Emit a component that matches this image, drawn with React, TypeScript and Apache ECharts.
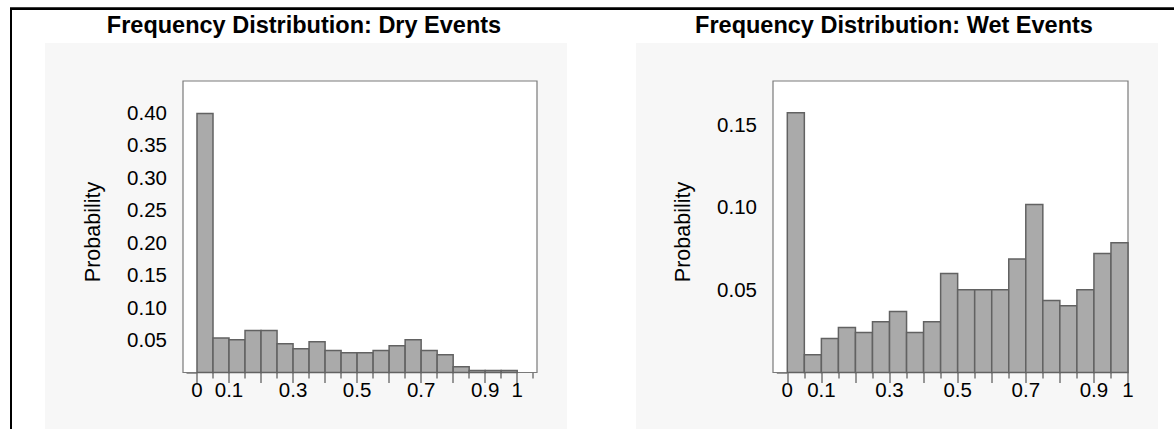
import React, { useEffect, useRef } from "react";
import * as echarts from "echarts";

const binStarts = [0, 0.05, 0.1, 0.15, 0.2, 0.25, 0.3, 0.35, 0.4, 0.45, 0.5, 0.55, 0.6, 0.65, 0.7, 0.75, 0.8, 0.85, 0.9, 0.95];
const binWidth = 0.05;

const dryProb = [0.398, 0.053, 0.0505, 0.0644, 0.0644, 0.0443, 0.0366, 0.0474, 0.034, 0.0304, 0.0304, 0.034, 0.0412, 0.0505, 0.034, 0.0273, 0.0088, 0.003, 0.003, 0.003];
const wetProb = [0.1568, 0.0107, 0.0206, 0.0272, 0.0242, 0.0306, 0.0369, 0.0242, 0.0306, 0.0597, 0.05, 0.05, 0.05, 0.0685, 0.1014, 0.0435, 0.0403, 0.05, 0.0719, 0.0784];

const dryTitle = "Frequency Distribution: Dry Events";
const wetTitle = "Frequency Distribution: Wet Events";
const yName = "Probability";

const xMajorTicks = [0, 0.1, 0.2, 0.3, 0.4, 0.5, 0.6, 0.7, 0.8, 0.9, 1.0];
const xLabelValues = [0, 0.1, 0.3, 0.5, 0.7, 0.9, 1.0];
const dryXMinorTicks = [0.05, 0.15, 0.25, 0.35, 0.45, 0.55, 0.65, 0.75, 0.85, 0.95, 1.05];
const wetXMinorTicks = [0.05, 0.15, 0.25, 0.35, 0.45, 0.55, 0.65, 0.75, 0.85, 0.95];
const dryYTicks = [0, 0.05, 0.1, 0.15, 0.2, 0.25, 0.3, 0.35, 0.4];
const dryYLabels = [0.05, 0.1, 0.15, 0.2, 0.25, 0.3, 0.35, 0.4];
const wetYTicks = [0, 0.05, 0.1, 0.15];
const wetYLabels = [0.05, 0.1, 0.15];
const wetYMinorTicks = [0.025, 0.075, 0.125];

const FONT = "'Liberation Sans', Arial, Helvetica, sans-serif";
const AXIS_GRAY = "#777777";
const LABEL_SIZE = 20.5;

function xFmt(v: number) {
  if (Math.abs(v) < 1e-9) return "0";
  if (Math.abs(v - 1) < 1e-9) return "1";
  return v.toFixed(1);
}

function makeData(vals: number[]) {
  return vals.map((v, i) => [binStarts[i], binStarts[i] + binWidth, v]);
}

function renderBar(params: any, api: any) {
  const x0 = api.value(0);
  const x1 = api.value(1);
  const v = api.value(2);
  const p0 = api.coord([x0, 0]);
  const p1 = api.coord([x1, v]);
  return {
    type: "rect",
    shape: { x: p0[0], y: p1[1], width: p1[0] - p0[0], height: p0[1] - p1[1] },
    style: { fill: "#aaaaaa", stroke: "#626262", lineWidth: 1.5 },
  };
}

export default function App() {
  const ref = useRef<HTMLDivElement>(null);

  useEffect(() => {
    if (!ref.current) return;
    const chart = echarts.init(ref.current, undefined, { renderer: "svg" });

    const xMajor = (gridIndex: number, min: number, max: number) => ({
      type: "value",
      gridIndex,
      position: "bottom",
      min,
      max,
      axisLine: { show: false },
      splitLine: { show: false },
      axisTick: { show: true, customValues: xMajorTicks, length: 10.5, lineStyle: { color: AXIS_GRAY, width: 1.5 } },
      axisLabel: {
        show: true,
        customValues: xLabelValues,
        formatter: (v: number) => xFmt(v),
        color: "#000",
        fontSize: LABEL_SIZE,
        fontFamily: FONT,
        margin: 6,
      },
    });
    const xMinor = (gridIndex: number, min: number, max: number, ticks: number[]) => ({
      type: "value",
      gridIndex,
      position: "bottom",
      min,
      max,
      axisLine: { show: false },
      splitLine: { show: false },
      axisTick: { show: true, customValues: ticks, length: 6, lineStyle: { color: AXIS_GRAY, width: 1.5 } },
      axisLabel: { show: false },
    });
    const yMajor = (gridIndex: number, max: number, ticks: number[], labels: number[]) => ({
      type: "value",
      gridIndex,
      position: "left",
      min: 0,
      max,
      axisLine: { show: false },
      splitLine: { show: false },
      axisTick: { show: true, customValues: ticks, length: 10.5, lineStyle: { color: AXIS_GRAY, width: 1.5 } },
      axisLabel: {
        show: true,
        customValues: labels,
        formatter: (v: number) => v.toFixed(2),
        color: "#000",
        fontSize: LABEL_SIZE,
        fontFamily: FONT,
        margin: 16,
      },
    });
    const yMinor = (gridIndex: number, max: number, ticks: number[]) => ({
      type: "value",
      gridIndex,
      position: "left",
      min: 0,
      max,
      axisLine: { show: false },
      splitLine: { show: false },
      axisTick: { show: true, customValues: ticks, length: 5, lineStyle: { color: AXIS_GRAY, width: 1.5 } },
      axisLabel: { show: false },
    });

    const panelText = (text: string, x: number, y: number) => ({
      type: "text",
      x,
      y,
      z: 50,
      style: {
        text,
        align: "center",
        verticalAlign: "middle",
        fontSize: 23.5,
        fontWeight: "bold",
        fontFamily: FONT,
        fill: "#000",
      },
    });
    const yTitle = (x: number, y: number) => ({
      type: "text",
      x,
      y,
      rotation: Math.PI / 2,
      z: 50,
      style: {
        text: yName,
        align: "center",
        verticalAlign: "middle",
        fontSize: 21.5,
        fontFamily: FONT,
        fill: "#000",
      },
    });

    chart.setOption({
      animation: false,
      backgroundColor: "#ffffff",
      grid: [
        { left: 183, top: 81, width: 354, height: 291.5, show: true, backgroundColor: "#ffffff", borderColor: "#7a7a7a", borderWidth: 1.2, z: 2 },
        { left: 773, top: 81, width: 355, height: 291.5, show: true, backgroundColor: "#ffffff", borderColor: "#7a7a7a", borderWidth: 1.2, z: 2 },
      ],
      xAxis: [
        xMajor(0, -0.0437, 1.0618),
        xMinor(0, -0.0437, 1.0618, dryXMinorTicks),
        xMajor(1, -0.042, 1.0),
        xMinor(1, -0.042, 1.0, wetXMinorTicks),
      ],
      yAxis: [
        yMajor(0, 0.448, dryYTicks, dryYLabels),
        yMinor(0, 0.448, []),
        yMajor(1, 0.176, wetYTicks, wetYLabels),
        yMinor(1, 0.176, wetYMinorTicks),
      ],
      series: [
        { type: "custom", name: "Dry", xAxisIndex: 0, yAxisIndex: 0, data: makeData(dryProb), renderItem: renderBar, z: 5, clip: false },
        { type: "custom", name: "Wet", xAxisIndex: 2, yAxisIndex: 2, data: makeData(wetProb), renderItem: renderBar, z: 5, clip: false },
      ],
      graphic: [
        { type: "rect", z: -10, shape: { x: 45, y: 43, width: 522, height: 386 }, style: { fill: "#f7f7f7" } },
        { type: "rect", z: -10, shape: { x: 636, y: 43, width: 522, height: 386 }, style: { fill: "#f7f7f7" } },
        { type: "line", z: 100, shape: { x1: 10, y1: 8.6, x2: 1174, y2: 8.6 }, style: { stroke: "#000", lineWidth: 2.6 } },
        { type: "line", z: 100, shape: { x1: 11, y1: 8, x2: 11, y2: 429 }, style: { stroke: "#000", lineWidth: 2 } },
        panelText(dryTitle, 304, 24.5),
        panelText(wetTitle, 894, 24.5),
        yTitle(93, 232),
        yTitle(683, 232),
      ],
    });

    return () => chart.dispose();
  }, []);

  return <div ref={ref} style={{ position: "fixed", left: 0, top: 0, width: 1174, height: 429 }} />;
}
